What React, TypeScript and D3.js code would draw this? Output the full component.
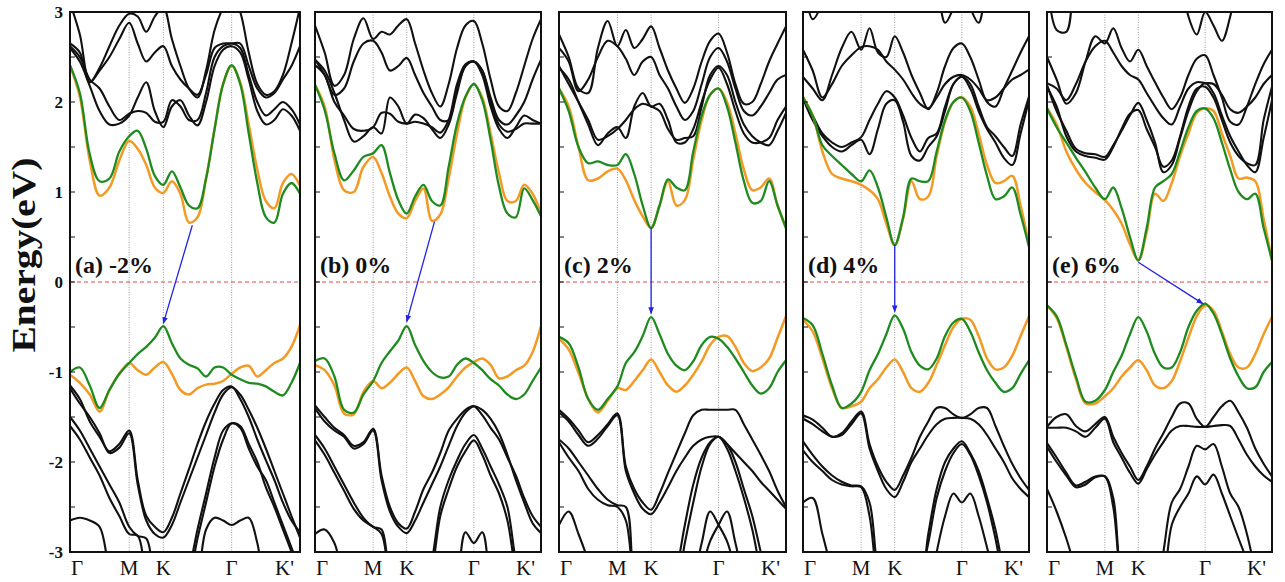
import React from "react";
import * as d3 from "d3";

// k-path sampling: Γ(0) M(0.866) K(1.366) Γ(2.366) K'(3.366)
const kGrid = [0, 0.144, 0.289, 0.433, 0.577, 0.722, 0.866, 0.991, 1.116, 1.241, 1.366, 1.491, 1.616, 1.741, 1.866, 1.991, 2.116, 2.241, 2.366, 2.491, 2.616, 2.741, 2.866, 2.991, 3.116, 3.241, 3.366];
const kPoints = [0, 0.866, 1.366, 2.366, 3.366];
const kLabels = ["Γ", "M", "K", "Γ", "K'"];
const energyLabels = [3, 2, 1, 0, -1, -2, -3];
const strainTags = ["(a) -2%", "(b) 0%", "(c) 2%", "(d) 4%", "(e) 6%"];

// (a) -2%
const aOrangeCB = [2.40, 2.06, 1.35, 0.96, 1.05, 1.35, 1.57, 1.48, 1.30, 1.05, 0.99, 1.12, 0.98, 0.66, 0.72, 1.15, 1.70, 2.20, 2.40, 2.22, 1.75, 1.25, 0.90, 0.82, 1.10, 1.20, 1.07];
const aGreenCB = [2.41, 2.10, 1.42, 1.12, 1.15, 1.45, 1.62, 1.68, 1.48, 1.18, 1.08, 1.23, 1.05, 0.85, 0.82, 1.15, 1.70, 2.20, 2.41, 2.20, 1.65, 1.10, 0.72, 0.66, 0.98, 1.10, 0.98];
const aOrangeVB = [-1.03, -1.12, -1.25, -1.44, -1.20, -1.02, -0.90, -0.98, -1.03, -0.95, -0.89, -1.02, -1.20, -1.25, -1.18, -1.14, -1.13, -1.10, -1.02, -0.95, -0.93, -1.05, -0.98, -0.90, -0.85, -0.72, -0.48];
const aGreenVB = [-1.00, -0.95, -1.15, -1.40, -1.20, -1.02, -0.90, -0.80, -0.72, -0.62, -0.49, -0.68, -0.85, -0.92, -0.96, -1.05, -0.95, -0.95, -1.03, -1.08, -1.12, -1.13, -1.16, -1.22, -1.26, -1.12, -0.90];
const aCB1 = [2.60, 2.45, 2.18, 1.90, 1.75, 1.76, 1.85, 2.05, 2.22, 1.90, 1.72, 1.95, 2.02, 1.85, 1.74, 2.00, 2.40, 2.58, 2.62, 2.55, 2.25, 1.90, 1.75, 1.80, 1.92, 1.85, 1.68];
const aCB2 = [2.62, 2.50, 2.25, 2.15, 1.95, 1.80, 1.87, 1.90, 1.88, 1.78, 1.78, 2.02, 1.95, 1.80, 1.80, 2.10, 2.50, 2.62, 2.65, 2.60, 2.30, 2.00, 1.85, 1.92, 2.00, 1.92, 1.75];
const aCB3 = [2.65, 2.55, 2.22, 2.35, 2.50, 2.70, 2.88, 2.65, 2.45, 2.55, 2.62, 2.40, 2.25, 2.15, 2.08, 2.30, 2.60, 2.65, 2.65, 2.65, 2.40, 2.15, 2.05, 2.10, 2.25, 2.40, 2.62];
const aCB4 = [3.10, 2.75, 2.22, 2.38, 2.62, 2.85, 2.98, 2.95, 2.78, 2.95, 3.05, 2.70, 2.40, 2.15, 2.05, 2.35, 2.80, 3.05, 3.20, 3.00, 2.55, 2.20, 2.08, 2.12, 2.30, 2.65, 3.05];
const aVB1 = [-1.15, -1.30, -1.55, -1.72, -1.88, -1.80, -1.65, -2.20, -2.60, -2.72, -2.78, -2.62, -2.35, -2.08, -1.80, -1.55, -1.35, -1.20, -1.16, -1.30, -1.50, -1.75, -1.98, -2.20, -2.45, -2.65, -2.78];
const aVB2 = [-1.18, -1.35, -1.50, -1.68, -1.90, -1.84, -1.68, -2.25, -2.65, -2.80, -2.84, -2.70, -2.45, -2.20, -1.95, -1.70, -1.45, -1.25, -1.17, -1.25, -1.42, -1.62, -1.85, -2.10, -2.35, -2.60, -2.84];
const aVB3 = [-1.50, -1.65, -1.85, -2.05, -2.25, -2.45, -2.72, -2.82, -2.85, -3.3, -3.5, -3.5, -3.5, -3.3, -2.85, -2.45, -2.05, -1.75, -1.57, -1.62, -1.85, -2.05, -2.20, -2.45, -2.70, -2.95, -3.2];
const aVB4 = [-1.60, -1.75, -1.95, -2.15, -2.40, -2.60, -2.80, -2.82, -3.3, -3.6, -3.6, -3.6, -3.5, -3.2, -2.75, -2.35, -1.95, -1.65, -1.57, -1.60, -1.80, -2.00, -2.28, -2.50, -2.75, -3.0, -3.3];
const aVB5 = [-2.65, -2.62, -2.65, -2.72, -3.2, -3.5, -3.5, -3.5, -3.5, -3.5, -3.5, -3.5, -3.5, -3.5, -3.3, -2.75, -2.62, -2.65, -2.70, -2.65, -2.62, -2.90, -3.4, -3.5, -3.5, -3.5, -3.5];
const aArrow = { from: [1.79, 0.63], to: [1.366, -0.46] };

// (b) 0%
const bOrangeCB = [2.19, 1.95, 1.36, 1.02, 1.00, 1.28, 1.39, 1.21, 0.95, 0.76, 0.71, 0.90, 1.04, 0.68, 0.75, 1.15, 1.65, 2.05, 2.20, 2.05, 1.65, 1.21, 0.90, 0.90, 1.08, 0.98, 0.76];
const bGreenCB = [2.19, 1.91, 1.43, 1.13, 1.24, 1.39, 1.43, 1.52, 1.21, 0.91, 0.76, 0.95, 1.08, 0.90, 0.85, 1.28, 1.76, 2.06, 2.20, 2.02, 1.58, 1.06, 0.76, 0.72, 1.04, 0.91, 0.73];
const bOrangeVB = [-0.92, -0.98, -1.15, -1.46, -1.47, -1.22, -1.10, -1.18, -1.12, -1.02, -0.95, -1.10, -1.27, -1.30, -1.25, -1.17, -1.05, -0.95, -0.89, -0.85, -0.92, -1.07, -1.05, -0.98, -0.93, -0.78, -0.49];
const bGreenVB = [-0.88, -0.85, -1.05, -1.42, -1.45, -1.25, -1.10, -0.90, -0.77, -0.65, -0.49, -0.70, -0.88, -1.00, -1.06, -1.05, -0.92, -0.85, -0.90, -0.98, -1.08, -1.15, -1.25, -1.30, -1.25, -1.10, -0.95];
const bCB1 = [2.47, 2.35, 2.10, 1.80, 1.56, 1.62, 1.72, 1.65, 2.05, 1.95, 1.76, 1.86, 1.82, 1.70, 1.60, 1.75, 2.10, 2.40, 2.45, 2.30, 1.95, 1.70, 1.60, 1.72, 1.85, 1.80, 1.76];
const bCB2 = [2.41, 2.30, 2.00, 1.85, 1.70, 1.68, 1.72, 1.88, 1.87, 1.78, 1.76, 1.78, 1.76, 1.72, 1.66, 1.80, 2.20, 2.42, 2.45, 2.35, 2.00, 1.75, 1.67, 1.70, 1.76, 1.76, 1.76];
const bCB3 = [2.47, 2.30, 2.08, 2.15, 2.45, 2.65, 2.68, 2.55, 2.35, 2.40, 2.49, 2.30, 2.10, 1.95, 1.80, 1.80, 2.15, 2.40, 2.45, 2.35, 2.05, 1.80, 1.75, 1.85, 2.00, 2.25, 2.47];
const bCB4 = [2.85, 2.55, 2.18, 2.30, 2.70, 2.93, 2.70, 2.78, 2.75, 2.85, 2.92, 2.65, 2.35, 2.10, 1.95, 2.20, 2.60, 2.85, 2.90, 2.65, 2.25, 1.95, 1.90, 2.10, 2.40, 2.70, 2.92];
const bVB1 = [-1.37, -1.50, -1.62, -1.70, -1.82, -1.78, -1.63, -2.15, -2.50, -2.68, -2.74, -2.55, -2.30, -2.12, -1.90, -1.65, -1.52, -1.42, -1.38, -1.48, -1.62, -1.75, -1.95, -2.15, -2.40, -2.60, -2.72];
const bVB2 = [-1.40, -1.55, -1.65, -1.72, -1.85, -1.80, -1.65, -2.20, -2.55, -2.72, -2.79, -2.65, -2.45, -2.25, -2.05, -1.82, -1.60, -1.45, -1.38, -1.42, -1.52, -1.68, -1.92, -2.20, -2.45, -2.68, -2.79];
const bVB3 = [-1.70, -1.85, -2.05, -2.25, -2.45, -2.62, -2.72, -2.75, -3.3, -3.5, -3.5, -3.5, -3.5, -3.1, -2.50, -2.20, -1.98, -1.80, -1.70, -1.85, -2.05, -2.25, -2.50, -3.1, -3.5, -3.5, -3.5];
const bVB4 = [-1.76, -1.92, -2.12, -2.32, -2.52, -2.65, -2.72, -2.80, -3.3, -3.5, -3.5, -3.5, -3.5, -3.2, -2.60, -2.30, -2.05, -1.88, -1.76, -1.92, -2.15, -2.35, -2.65, -3.2, -3.5, -3.5, -3.5];
const bVB5 = [-2.80, -2.75, -2.90, -3.3, -3.5, -3.5, -3.5, -3.5, -3.5, -3.5, -3.5, -3.5, -3.5, -3.5, -3.5, -3.5, -3.3, -2.78, -2.90, -2.78, -3.3, -3.5, -3.5, -3.5, -3.5, -3.5, -3.5];
const bArrow = { from: [1.78, 0.67], to: [1.366, -0.44] };

// (c) 2%
const cOrangeCB = [2.15, 1.95, 1.50, 1.13, 1.15, 1.23, 1.26, 1.13, 0.91, 0.73, 0.60, 0.85, 1.12, 0.85, 0.91, 1.36, 1.80, 2.08, 2.15, 2.00, 1.65, 1.25, 1.02, 1.05, 1.15, 0.85, 0.60];
const cGreenCB = [2.15, 1.90, 1.50, 1.32, 1.34, 1.30, 1.30, 1.42, 1.20, 0.85, 0.60, 0.85, 1.14, 1.05, 1.02, 1.45, 1.85, 2.08, 2.15, 1.95, 1.55, 1.12, 0.88, 0.90, 1.12, 0.85, 0.60];
const cOrangeVB = [-0.63, -0.75, -1.01, -1.30, -1.45, -1.32, -1.18, -1.20, -1.10, -0.98, -0.86, -1.00, -1.15, -1.22, -1.15, -1.03, -0.88, -0.70, -0.61, -0.60, -0.72, -0.90, -0.99, -0.95, -0.85, -0.62, -0.38];
const cGreenVB = [-0.61, -0.68, -0.95, -1.30, -1.42, -1.30, -1.16, -0.90, -0.78, -0.60, -0.39, -0.58, -0.80, -0.93, -0.98, -0.88, -0.70, -0.61, -0.63, -0.72, -0.85, -1.00, -1.15, -1.24, -1.18, -1.00, -0.87];
const cCB1 = [2.38, 2.25, 2.00, 1.75, 1.52, 1.65, 1.72, 1.60, 1.95, 2.10, 1.95, 1.98, 1.80, 1.55, 1.55, 1.70, 2.00, 2.25, 2.38, 2.20, 1.90, 1.65, 1.55, 1.55, 1.60, 1.80, 1.95];
const cCB2 = [2.40, 2.20, 2.00, 1.80, 1.58, 1.62, 1.70, 1.80, 1.92, 1.98, 1.95, 1.90, 1.70, 1.58, 1.60, 1.62, 1.95, 2.30, 2.40, 2.30, 2.00, 1.75, 1.62, 1.55, 1.52, 1.68, 1.88];
const cCB3 = [2.75, 2.50, 2.15, 2.10, 2.60, 2.90, 2.62, 2.80, 2.60, 2.70, 2.84, 2.60, 2.35, 2.15, 1.99, 2.15, 2.45, 2.68, 2.76, 2.55, 2.20, 1.98, 2.00, 2.20, 2.45, 2.65, 2.84];
const cCB4 = [2.60, 2.45, 2.12, 2.25, 2.50, 2.68, 2.62, 2.48, 2.30, 2.45, 2.50, 2.30, 2.15, 1.95, 1.80, 1.90, 2.20, 2.50, 2.60, 2.45, 2.15, 1.90, 1.85, 1.95, 2.10, 2.25, 2.30];
const cVB1 = [-1.42, -1.52, -1.65, -1.78, -1.70, -1.58, -1.46, -2.05, -2.30, -2.45, -2.53, -2.35, -2.12, -1.90, -1.68, -1.48, -1.42, -1.42, -1.42, -1.42, -1.42, -1.58, -1.75, -1.92, -2.10, -2.32, -2.50];
const cVB2 = [-1.45, -1.55, -1.70, -1.82, -1.74, -1.60, -1.48, -2.10, -2.35, -2.52, -2.58, -2.45, -2.28, -2.10, -1.95, -1.82, -1.75, -1.72, -1.72, -1.80, -1.90, -2.00, -2.10, -2.22, -2.32, -2.42, -2.52];
const cVB3 = [-1.75, -1.85, -2.00, -2.15, -2.30, -2.42, -2.48, -2.50, -3.3, -3.5, -3.5, -3.5, -3.5, -3.2, -2.70, -2.25, -1.95, -1.78, -1.72, -1.85, -2.10, -2.40, -2.75, -3.2, -3.5, -3.5, -3.5];
const cVB4 = [-1.78, -1.95, -2.10, -2.30, -2.42, -2.48, -2.50, -2.65, -3.3, -3.5, -3.5, -3.5, -3.5, -3.4, -2.90, -2.45, -2.05, -1.80, -1.72, -1.80, -2.00, -2.30, -2.60, -3.0, -3.4, -3.5, -3.5];
const cVB5 = [-2.70, -2.55, -2.80, -3.1, -3.5, -3.5, -3.5, -3.5, -3.5, -3.5, -3.5, -3.5, -3.5, -3.5, -3.5, -3.3, -2.90, -2.55, -2.70, -2.88, -3.2, -3.5, -3.5, -3.5, -3.5, -3.5, -3.5];
const cVB6 = [-3.5, -3.5, -3.5, -3.5, -3.5, -3.5, -3.5, -3.5, -3.5, -3.5, -3.5, -3.5, -3.5, -3.5, -3.5, -3.5, -3.2, -2.88, -2.70, -2.55, -2.90, -3.3, -3.5, -3.5, -3.5, -3.5, -3.5];
const cArrow = { from: [1.366, 0.60], to: [1.366, -0.35] };

// (d) 4%
const dOrangeCB = [2.05, 1.85, 1.45, 1.20, 1.15, 1.12, 1.08, 1.02, 0.92, 0.65, 0.41, 0.70, 1.12, 0.92, 0.95, 1.40, 1.78, 2.00, 2.05, 1.95, 1.65, 1.30, 1.10, 1.12, 1.18, 0.85, 0.41];
const dGreenCB = [2.05, 1.85, 1.52, 1.40, 1.30, 1.20, 1.12, 1.24, 1.05, 0.72, 0.41, 0.72, 1.15, 1.12, 1.12, 1.45, 1.80, 2.00, 2.05, 1.90, 1.55, 1.18, 0.92, 0.95, 1.05, 0.75, 0.39];
const dOrangeVB = [-0.42, -0.55, -0.85, -1.18, -1.40, -1.38, -1.33, -1.18, -1.08, -0.95, -0.86, -1.00, -1.18, -1.22, -1.12, -0.92, -0.70, -0.50, -0.41, -0.42, -0.60, -0.85, -0.97, -0.95, -0.82, -0.60, -0.38];
const dGreenVB = [-0.40, -0.48, -0.80, -1.15, -1.40, -1.35, -1.22, -0.98, -0.80, -0.58, -0.37, -0.52, -0.78, -0.93, -0.97, -0.85, -0.60, -0.45, -0.41, -0.55, -0.78, -0.98, -1.12, -1.22, -1.18, -1.02, -0.87];
const dCB1 = [2.04, 1.80, 1.62, 1.50, 1.45, 1.52, 1.58, 1.42, 1.70, 1.98, 2.02, 1.78, 1.40, 1.35, 1.50, 1.62, 1.90, 2.20, 2.28, 2.15, 1.90, 1.70, 1.55, 1.38, 1.30, 1.65, 2.02];
const dCB2 = [2.06, 1.85, 1.65, 1.55, 1.50, 1.55, 1.61, 1.80, 1.98, 2.12, 2.05, 1.85, 1.60, 1.45, 1.60, 1.65, 1.95, 2.20, 2.28, 2.20, 1.95, 1.72, 1.62, 1.50, 1.40, 1.75, 2.06];
const dCB3 = [2.28, 2.15, 2.02, 2.30, 2.60, 2.78, 2.58, 2.82, 2.55, 2.50, 2.73, 2.55, 2.30, 2.10, 1.92, 2.10, 2.40, 2.60, 2.65, 2.50, 2.25, 2.00, 1.95, 2.15, 2.35, 2.55, 2.73];
const dCB4 = [2.58, 2.35, 2.05, 2.20, 2.40, 2.52, 2.61, 2.62, 2.58, 2.45, 2.36, 2.25, 2.10, 1.98, 1.93, 2.05, 2.20, 2.28, 2.30, 2.25, 2.15, 2.02, 2.05, 2.15, 2.25, 2.30, 2.36];
const dCB5 = [3.4, 2.92, 3.1, 3.5, 3.5, 3.5, 3.5, 3.5, 3.5, 3.5, 3.5, 3.5, 3.5, 3.5, 3.5, 3.3, 2.88, 3.05, 3.4, 3.05, 2.88, 3.3, 3.5, 3.5, 3.5, 3.5, 3.5];
const dVB1 = [-1.48, -1.53, -1.62, -1.72, -1.68, -1.55, -1.44, -1.80, -2.05, -2.22, -2.31, -2.15, -1.95, -1.72, -1.55, -1.40, -1.40, -1.47, -1.51, -1.47, -1.40, -1.40, -1.60, -1.82, -2.02, -2.18, -2.31];
const dVB2 = [-1.52, -1.58, -1.66, -1.72, -1.70, -1.58, -1.46, -1.85, -2.10, -2.30, -2.39, -2.22, -2.00, -1.85, -1.70, -1.58, -1.52, -1.51, -1.51, -1.52, -1.58, -1.70, -1.85, -2.00, -2.18, -2.30, -2.39];
const dVB3 = [-1.77, -1.92, -2.05, -2.15, -2.22, -2.26, -2.27, -2.45, -3.2, -3.5, -3.5, -3.5, -3.5, -3.4, -2.80, -2.30, -2.00, -1.85, -1.77, -1.90, -2.10, -2.40, -2.75, -3.2, -3.5, -3.5, -3.5];
const dVB4 = [-1.87, -2.00, -2.10, -2.20, -2.25, -2.27, -2.28, -2.60, -3.3, -3.5, -3.5, -3.5, -3.5, -3.3, -2.90, -2.40, -2.10, -1.90, -1.80, -1.92, -2.15, -2.45, -2.85, -3.3, -3.5, -3.5, -3.5];
const dVB5 = [-3.5, -3.5, -3.5, -3.5, -3.5, -3.5, -3.5, -3.5, -3.5, -3.5, -3.5, -3.5, -3.5, -3.5, -3.5, -3.0, -2.60, -2.35, -2.45, -2.35, -2.60, -2.95, -3.3, -3.5, -3.5, -3.5, -3.5];
const dVB6 = [-2.45, -2.40, -2.80, -3.2, -3.5, -3.5, -3.5, -3.5, -3.5, -3.5, -3.5, -3.5, -3.5, -3.5, -3.5, -3.5, -3.5, -3.5, -3.5, -3.5, -3.5, -3.5, -3.5, -3.5, -3.5, -3.5, -3.5];
const dArrow = { from: [1.366, 0.41], to: [1.366, -0.33] };

// (e) 6%
const eOrangeCB = [1.93, 1.75, 1.45, 1.25, 1.10, 1.00, 0.91, 0.80, 0.65, 0.42, 0.24, 0.55, 0.98, 0.90, 1.10, 1.40, 1.65, 1.88, 1.93, 1.90, 1.65, 1.40, 1.15, 1.16, 1.12, 0.70, 0.24];
const eGreenCB = [1.93, 1.72, 1.55, 1.38, 1.22, 1.05, 0.92, 1.05, 0.82, 0.50, 0.24, 0.60, 1.05, 1.12, 1.20, 1.45, 1.72, 1.90, 1.93, 1.82, 1.55, 1.25, 1.00, 0.92, 0.98, 0.60, 0.24];
const eOrangeVB = [-0.26, -0.40, -0.72, -1.08, -1.35, -1.35, -1.27, -1.18, -1.05, -0.95, -0.87, -0.98, -1.15, -1.18, -1.10, -0.88, -0.62, -0.38, -0.26, -0.32, -0.55, -0.80, -0.95, -0.95, -0.80, -0.58, -0.39];
const eGreenVB = [-0.26, -0.38, -0.70, -1.05, -1.33, -1.32, -1.20, -1.00, -0.82, -0.58, -0.39, -0.55, -0.80, -0.95, -0.95, -0.78, -0.50, -0.32, -0.24, -0.35, -0.58, -0.85, -1.05, -1.18, -1.17, -1.00, -0.89];
const eCB1 = [2.19, 1.90, 1.68, 1.48, 1.43, 1.42, 1.39, 1.52, 1.68, 1.85, 1.99, 1.80, 1.55, 1.22, 1.30, 1.60, 1.90, 2.12, 2.21, 2.10, 1.85, 1.62, 1.45, 1.30, 1.22, 1.60, 2.02];
const eCB2 = [2.17, 1.95, 1.62, 1.45, 1.40, 1.38, 1.36, 1.50, 1.70, 1.87, 1.91, 1.70, 1.50, 1.28, 1.35, 1.62, 1.95, 2.15, 2.17, 2.05, 1.80, 1.55, 1.40, 1.32, 1.30, 1.80, 2.17];
const eCB3 = [2.50, 2.25, 1.98, 2.10, 2.45, 2.73, 2.65, 2.82, 2.60, 2.45, 2.58, 2.40, 2.22, 2.05, 1.92, 2.05, 2.30, 2.48, 2.52, 2.30, 2.05, 1.78, 1.75, 1.95, 2.20, 2.42, 2.58];
const eCB4 = [2.21, 2.15, 2.02, 2.20, 2.45, 2.62, 2.68, 2.55, 2.40, 2.30, 2.25, 2.10, 1.95, 1.82, 1.75, 1.95, 2.15, 2.22, 2.21, 2.20, 2.08, 1.92, 1.88, 1.95, 2.05, 2.20, 2.30];
const eCB5 = [3.4, 2.80, 2.78, 3.4, 3.5, 3.5, 3.5, 3.5, 3.5, 3.5, 3.5, 3.5, 3.5, 3.5, 3.5, 3.4, 2.95, 2.75, 3.0, 2.85, 2.68, 2.95, 3.4, 3.5, 3.5, 3.5, 3.5];
const eVB1 = [-1.61, -1.50, -1.47, -1.60, -1.66, -1.58, -1.50, -1.72, -1.90, -2.05, -2.20, -2.05, -1.85, -1.68, -1.50, -1.35, -1.35, -1.52, -1.61, -1.50, -1.38, -1.32, -1.45, -1.62, -1.85, -2.02, -2.16];
const eVB2 = [-1.62, -1.62, -1.62, -1.66, -1.72, -1.62, -1.52, -1.78, -1.95, -2.12, -2.24, -2.08, -1.92, -1.78, -1.65, -1.60, -1.60, -1.61, -1.61, -1.60, -1.59, -1.60, -1.75, -1.92, -2.05, -2.15, -2.22];
const eVB3 = [-1.79, -1.95, -2.12, -2.26, -2.22, -2.16, -2.16, -2.40, -3.3, -3.5, -3.5, -3.5, -3.5, -3.0, -2.45, -2.30, -2.05, -1.82, -1.86, -1.80, -2.05, -2.35, -2.50, -2.80, -3.2, -3.5, -3.5];
const eVB4 = [-1.83, -2.00, -2.15, -2.28, -2.25, -2.17, -2.16, -2.50, -3.3, -3.5, -3.5, -3.5, -3.5, -3.3, -2.70, -2.50, -2.35, -2.16, -2.25, -2.14, -2.35, -2.60, -2.85, -3.1, -3.5, -3.5, -3.5];
const eVB5 = [-2.30, -2.55, -2.85, -3.2, -3.5, -3.5, -3.5, -3.5, -3.5, -3.5, -3.5, -3.5, -3.5, -3.5, -3.5, -3.5, -3.5, -3.5, -3.5, -3.5, -3.5, -3.5, -3.5, -3.5, -3.5, -3.5, -3.5];
const eArrow = { from: [1.366, 0.22], to: [2.33, -0.24] };

const panels = [
  { tag: strainTags[0], black: [aCB1, aCB2, aCB3, aCB4, aVB1, aVB2, aVB3, aVB4, aVB5], orange: [aOrangeCB, aOrangeVB], green: [aGreenCB, aGreenVB], arrow: aArrow },
  { tag: strainTags[1], black: [bCB1, bCB2, bCB3, bCB4, bVB1, bVB2, bVB3, bVB4, bVB5], orange: [bOrangeCB, bOrangeVB], green: [bGreenCB, bGreenVB], arrow: bArrow },
  { tag: strainTags[2], black: [cCB1, cCB2, cCB3, cCB4, cVB1, cVB2, cVB3, cVB4, cVB5, cVB6], orange: [cOrangeCB, cOrangeVB], green: [cGreenCB, cGreenVB], arrow: cArrow },
  { tag: strainTags[3], black: [dCB1, dCB2, dCB3, dCB4, dCB5, dVB1, dVB2, dVB3, dVB4, dVB5, dVB6], orange: [dOrangeCB, dOrangeVB], green: [dGreenCB, dGreenVB], arrow: dArrow },
  { tag: strainTags[4], black: [eCB1, eCB2, eCB3, eCB4, eCB5, eVB1, eVB2, eVB3, eVB4, eVB5], orange: [eOrangeCB, eOrangeVB], green: [eGreenCB, eGreenVB], arrow: eArrow },
];

const WIDTH = 1285;
const HEIGHT = 582;
const TOP = 12;
const BOTTOM = 552;
const LEFTS = [70, 315, 559, 803, 1047];
const RIGHTS = [300, 541, 786, 1029, 1272];
const FONT = "'Liberation Serif', 'Times New Roman', serif";
const ORANGE = "#f39a25";
const GREEN = "#1f8a1f";
const BLUE = "#2323e6";

function Panel({ index, panel, y }) {
  const x = d3.scaleLinear().domain([0, kGrid[kGrid.length - 1]]).range([LEFTS[index], RIGHTS[index]]);
  const line = d3
    .line()
    .x((_, j) => x(kGrid[j]))
    .y((d) => y(d))
    .curve(d3.curveCatmullRom.alpha(0.5));
  const minorTicks = y.ticks(12);
  const clipId = `clip-${index}`;
  const last = kPoints.length - 1;

  return (
    <g>
      <defs>
        <clipPath id={clipId}>
          <rect x={LEFTS[index]} y={TOP} width={RIGHTS[index] - LEFTS[index]} height={BOTTOM - TOP} />
        </clipPath>
      </defs>
      {kPoints.slice(1, 4).map((k, i) => (
        <line key={i} x1={x(k)} x2={x(k)} y1={TOP} y2={BOTTOM} stroke="#9a9a9a" strokeWidth={1} strokeDasharray="1,1.5" />
      ))}
      <line x1={LEFTS[index]} x2={RIGHTS[index]} y1={y(0)} y2={y(0)} stroke="#e34848" strokeWidth={1.2} strokeDasharray="4,3" />
      <g clipPath={`url(#${clipId})`} fill="none" strokeLinejoin="round">
        {panel.black.map((band, i) => (
          <path key={`k${i}`} d={line(band)} stroke="#111" strokeWidth={2.1} />
        ))}
        {panel.orange.map((band, i) => (
          <path key={`o${i}`} d={line(band)} stroke={ORANGE} strokeWidth={2.5} />
        ))}
        {panel.green.map((band, i) => (
          <path key={`g${i}`} d={line(band)} stroke={GREEN} strokeWidth={2.3} />
        ))}
      </g>
      <line
        x1={x(panel.arrow.from[0])}
        y1={y(panel.arrow.from[1])}
        x2={x(panel.arrow.to[0])}
        y2={y(panel.arrow.to[1])}
        stroke={BLUE}
        strokeWidth={1.3}
        markerEnd="url(#arrowHead)"
      />
      {minorTicks.map((t, i) => (
        <line key={`t${i}`} x1={LEFTS[index]} x2={LEFTS[index] + 5} y1={y(t)} y2={y(t)} stroke="#111" strokeWidth={1} />
      ))}
      <rect x={LEFTS[index]} y={TOP} width={RIGHTS[index] - LEFTS[index]} height={BOTTOM - TOP} fill="none" stroke="#111" strokeWidth={2} />
      <text x={LEFTS[index] + 5} y={273} fontFamily={FONT} fontWeight="bold" fontSize={24} fill="#111">
        {panel.tag}
      </text>
      {kPoints.map((k, i) => (
        <text
          key={`l${i}`}
          x={i === 0 ? x(k) + 1 : i === last ? x(k) - 6 : x(k)}
          y={575}
          textAnchor={i === 0 ? "start" : i === last ? "end" : "middle"}
          fontFamily={FONT}
          fontSize={21}
          fill="#111"
        >
          {kLabels[i]}
        </text>
      ))}
    </g>
  );
}

export default function App() {
  const y = d3.scaleLinear().domain([-3, 3]).range([BOTTOM, TOP]);
  return (
    <div style={{ position: "absolute", left: 0, top: 0 }}>
      <svg width={WIDTH} height={HEIGHT} style={{ display: "block", background: "#fff" }}>
        <defs>
          <marker id="arrowHead" viewBox="0 0 10 10" refX="9" refY="5" markerWidth="7" markerHeight="7" markerUnits="userSpaceOnUse" orient="auto">
            <path d="M0,1 L10,5 L0,9 Z" fill={BLUE} />
          </marker>
        </defs>
        {panels.map((p, i) => (
          <Panel key={i} index={i} panel={p} y={y} />
        ))}
        {energyLabels.map((e) => (
          <text key={e} x={63} y={y(e)} dy="0.35em" textAnchor="end" fontFamily={FONT} fontWeight="bold" fontSize={17} fill="#111">
            {e}
          </text>
        ))}
        <text
          transform="translate(35,255) rotate(-90)"
          textAnchor="middle"
          fontFamily={FONT}
          fontWeight="bold"
          fontSize={34}
          textLength={195}
          lengthAdjust="spacingAndGlyphs"
          fill="#111"
        >
          Energy(eV)
        </text>
      </svg>
    </div>
  );
}
